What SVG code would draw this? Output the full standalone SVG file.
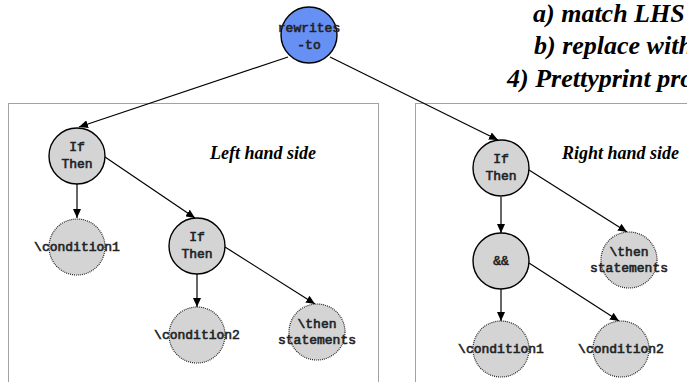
<svg xmlns="http://www.w3.org/2000/svg" width="687" height="382" viewBox="0 0 687 382">
<defs>
<marker id="arr" markerUnits="userSpaceOnUse" markerWidth="9" markerHeight="8" refX="9" refY="4" orient="auto">
<path d="M0,0 L9,4 L0,8 z" fill="#000"/>
</marker>
</defs>
<rect width="687" height="382" fill="#fff"/>
<g id="boxes" fill="none" stroke="#444" stroke-width="1" stroke-dasharray="1 1">
<rect x="8.5" y="103.5" width="370" height="300"/>
<rect x="415.5" y="103.5" width="300" height="300"/>
</g>
<g id="notes" font-family="'Liberation Serif'" font-weight="bold" font-style="italic" fill="#000">
<text font-size="26" x="533" y="22">a) match LHS</text>
<text font-size="26" x="534" y="54">b) replace with</text>
<text font-size="26" x="507" y="87">4) Prettyprint pro</text>
<text font-size="18" x="210" y="159">Left hand side</text>
<text font-size="18" x="562" y="159">Right hand side</text>
</g>
<g id="connectors" stroke="#000" stroke-width="1.2" fill="none" marker-end="url(#arr)">
<line x1="288" y1="57" x2="79" y2="127"/>
<line x1="330" y1="57" x2="498" y2="140"/>
<line x1="77" y1="184" x2="77" y2="218"/>
<line x1="105" y1="157" x2="195" y2="218"/>
<line x1="197" y1="274" x2="197" y2="307"/>
<line x1="225" y1="247" x2="315" y2="304"/>
<line x1="501" y1="197" x2="501" y2="233"/>
<line x1="529" y1="170" x2="627" y2="232"/>
<line x1="501" y1="289" x2="501" y2="321"/>
<line x1="529" y1="263" x2="619" y2="321"/>
</g>
<g id="nodes" font-family="'Liberation Mono'" font-size="13" text-anchor="middle">
<g id="rewrites"><circle cx="309" cy="35" r="28" fill="#6690f4" stroke="#000" stroke-width="1.4"/><g fill="#222" stroke="#222" stroke-width="0.6"><text x="309" y="32">rewrites</text><text x="309" y="49">-to</text></g></g>
<g id="lhs-ifthen"><circle cx="77" cy="156" r="28" fill="#d4d4d4" stroke="#000" stroke-width="1.4"/><g fill="#222" stroke="#222" stroke-width="0.6"><text x="77" y="151">If</text><text x="77" y="168">Then</text></g></g>
<g id="lhs-cond1"><circle cx="77" cy="247" r="28" fill="#d4d4d4" stroke="#222" stroke-width="1.2" stroke-dasharray="1 1"/><text x="77" y="251" fill="#222" stroke="#222" stroke-width="0.6">\condition1</text></g>
<g id="lhs-ifthen2"><circle cx="197" cy="246" r="28" fill="#d4d4d4" stroke="#000" stroke-width="1.4"/><g fill="#222" stroke="#222" stroke-width="0.6"><text x="197" y="241">If</text><text x="197" y="258">Then</text></g></g>
<g id="lhs-cond2"><circle cx="197" cy="335" r="28" fill="#d4d4d4" stroke="#222" stroke-width="1.2" stroke-dasharray="1 1"/><text x="197" y="339" fill="#222" stroke="#222" stroke-width="0.6">\condition2</text></g>
<g id="lhs-then"><circle cx="317" cy="332" r="28" fill="#d4d4d4" stroke="#222" stroke-width="1.2" stroke-dasharray="1 1"/><g fill="#222" stroke="#222" stroke-width="0.6"><text x="317" y="328">\then</text><text x="317" y="344">statements</text></g></g>
<g id="rhs-ifthen"><circle cx="501" cy="168" r="28" fill="#d4d4d4" stroke="#000" stroke-width="1.4"/><g fill="#222" stroke="#222" stroke-width="0.6"><text x="501" y="163">If</text><text x="501" y="180">Then</text></g></g>
<g id="rhs-and"><circle cx="501" cy="261" r="28" fill="#d4d4d4" stroke="#000" stroke-width="1.4"/><text x="501" y="265" fill="#222" stroke="#222" stroke-width="0.6">&amp;&amp;</text></g>
<g id="rhs-then"><circle cx="629" cy="260" r="28" fill="#d4d4d4" stroke="#222" stroke-width="1.2" stroke-dasharray="1 1"/><g fill="#222" stroke="#222" stroke-width="0.6"><text x="629" y="256">\then</text><text x="629" y="272">statements</text></g></g>
<g id="rhs-cond1"><circle cx="501" cy="349" r="28" fill="#d4d4d4" stroke="#222" stroke-width="1.2" stroke-dasharray="1 1"/><text x="501" y="353" fill="#222" stroke="#222" stroke-width="0.6">\condition1</text></g>
<g id="rhs-cond2"><circle cx="621" cy="349" r="28" fill="#d4d4d4" stroke="#222" stroke-width="1.2" stroke-dasharray="1 1"/><text x="621" y="353" fill="#222" stroke="#222" stroke-width="0.6">\condition2</text></g>
</g>
</svg>
